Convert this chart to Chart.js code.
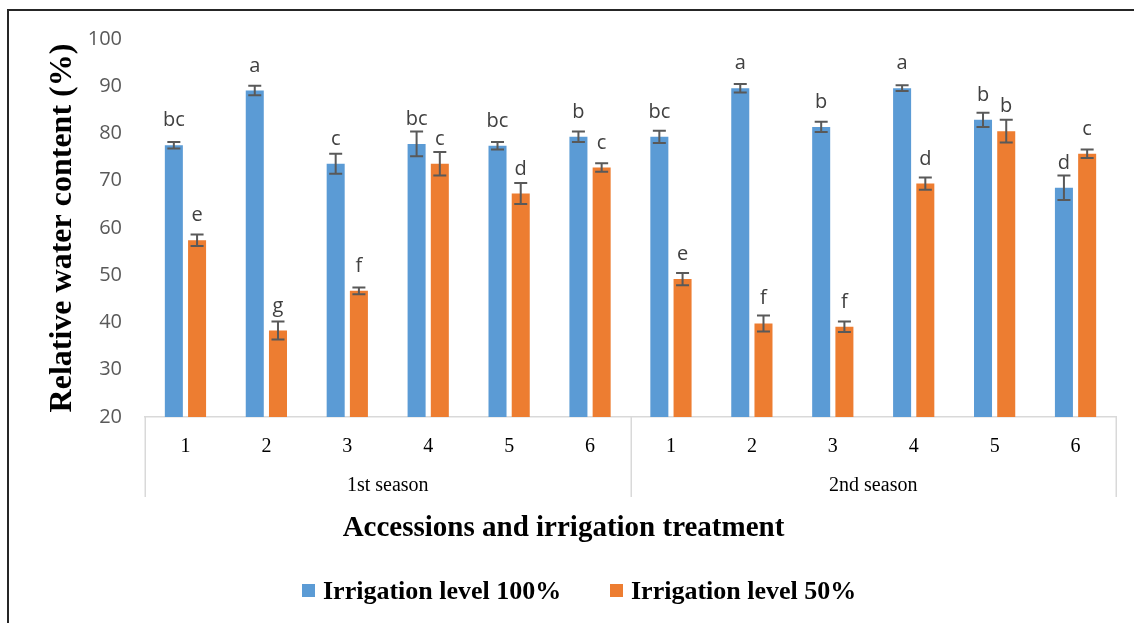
<!DOCTYPE html>
<html>
<head>
<meta charset="utf-8">
<script src="https://cdn.jsdelivr.net/npm/chart.js@4/dist/chart.umd.min.js"></script>
<style>
  html, body { margin: 0; padding: 0; background: #ffffff; }
  #wrap { width: 1134px; height: 623px; position: relative; }
</style>
</head>
<body>
<div id="wrap"><canvas id="rwc" width="1134" height="623"></canvas></div>
<script>
// Accession numbers along the x axis, grouped by season
const accessions = ['1', '2', '3', '4', '5', '6', '1', '2', '3', '4', '5', '6'];
const seasons = ['1st season', '2nd season'];
const seriesNames = ['Irrigation level 100%', 'Irrigation level 50%'];

// Relative water content (%) per accession
const rwc100 = [77.5, 89.1, 73.6, 77.8, 77.4, 79.3, 79.3, 89.6, 81.4, 89.6, 82.9, 68.5];
const rwc50  = [57.4, 38.3, 46.7, 73.6, 67.3, 72.8, 49.2, 39.8, 39.1, 69.4, 80.5, 75.7];

// Standard errors
const se100 = [0.7, 1.0, 2.1, 2.6, 0.8, 1.1, 1.3, 0.9, 1.1, 0.6, 1.5, 2.6];
const se50  = [1.2, 1.9, 0.7, 2.5, 2.2, 0.9, 1.3, 1.7, 1.1, 1.3, 2.4, 0.9];

// Mean separation letters
const letters100 = ['bc', 'a', 'c', 'bc', 'bc', 'b', 'bc', 'a', 'b', 'a', 'b', 'd'];
const letters50  = ['e', 'g', 'f', 'c', 'd', 'c', 'e', 'f', 'f', 'd', 'b', 'c'];

// Y axis range
const yMin = 20, yMax = 100, yStep = 10;

const BLUE = '#5B9BD5';
const ORANGE = '#ED7D31';
const SERIF = '"Liberation Serif", "Times New Roman", serif';
const SANS = '"Open Sans", "Liberation Sans", sans-serif';

const errorsBySeries = [se100, se50];
const lettersBySeries = [letters100, letters50];

const annotations = {
  id: 'annotations',
  afterDatasetsDraw(chart) {
    const ctx = chart.ctx;
    const y = chart.scales.y;
    ctx.save();
    chart.data.datasets.forEach((ds, di) => {
      const meta = chart.getDatasetMeta(di);
      const errs = errorsBySeries[di];
      const lets = lettersBySeries[di];
      meta.data.forEach((bar, i) => {
        const v = ds.data[i];
        const yHi = y.getPixelForValue(v + errs[i]);
        const yLo = y.getPixelForValue(v - errs[i]);
        ctx.strokeStyle = '#595959';
        ctx.lineWidth = 2;
        ctx.beginPath();
        ctx.moveTo(bar.x, yHi); ctx.lineTo(bar.x, yLo);
        ctx.moveTo(bar.x - 6.5, yHi); ctx.lineTo(bar.x + 6.5, yHi);
        ctx.moveTo(bar.x - 6.5, yLo); ctx.lineTo(bar.x + 6.5, yLo);
        ctx.stroke();

        ctx.fillStyle = '#404040';
        ctx.font = '20px ' + SANS;
        ctx.textAlign = 'center';
        ctx.textBaseline = 'alphabetic';
        ctx.fillText(lets[i], bar.x, bar.y - 19);
      });
    });
    ctx.restore();
  },
  afterDraw(chart) {
    const ctx = chart.ctx;
    const x = chart.scales.x;
    const area = chart.chartArea;
    ctx.save();

    // Season group boxes under the accession labels
    const n = accessions.length / seasons.length;
    const bounds = [];
    for (let g = 0; g <= seasons.length; g++) {
      bounds.push(x.getPixelForValue(g * n - 0.5));
    }
    ctx.strokeStyle = '#d9d9d9';
    ctx.lineWidth = 1.5;
    ctx.beginPath();
    bounds.forEach(px => {
      ctx.moveTo(Math.round(px) + 0.25, area.bottom);
      ctx.lineTo(Math.round(px) + 0.25, area.bottom + 80);
    });
    ctx.stroke();

    ctx.fillStyle = '#000000';
    ctx.font = '20px ' + SERIF;
    ctx.textAlign = 'center';
    ctx.textBaseline = 'middle';
    seasons.forEach((s, g) => {
      ctx.fillText(s, (bounds[g] + bounds[g + 1]) / 2, area.bottom + 69);
    });

    // Horizontal axis title
    ctx.font = 'bold 29px ' + SERIF;
    ctx.textBaseline = 'alphabetic';
    ctx.fillText('Accessions and irrigation treatment', 563.5, 536);

    // Legend
    const items = [
      { x: 302, color: BLUE, text: seriesNames[0] },
      { x: 610, color: ORANGE, text: seriesNames[1] }
    ];
    ctx.font = 'bold 26px ' + SERIF;
    ctx.textAlign = 'left';
    items.forEach(it => {
      ctx.fillStyle = it.color;
      ctx.fillRect(it.x, 584, 13, 13);
      ctx.fillStyle = '#000000';
      ctx.fillText(it.text, it.x + 21, 599);
    });

    // Outer frame (left and top edges)
    ctx.strokeStyle = '#262626';
    ctx.lineWidth = 2;
    ctx.beginPath();
    ctx.moveTo(8, 623); ctx.lineTo(8, 10); ctx.lineTo(1134, 10);
    ctx.stroke();

    ctx.restore();
  }
};

new Chart(document.getElementById('rwc'), {
  type: 'bar',
  data: {
    labels: accessions,
    datasets: [
      { label: seriesNames[0], data: rwc100, backgroundColor: BLUE, borderWidth: 0,
        categoryPercentage: 0.574, barPercentage: 0.776 },
      { label: seriesNames[1], data: rwc50, backgroundColor: ORANGE, borderWidth: 0,
        categoryPercentage: 0.574, barPercentage: 0.776 }
    ]
  },
  options: {
    responsive: false,
    animation: false,
    devicePixelRatio: 1,
    layout: { padding: { top: 39, right: 18, bottom: 0, left: 0 } },
    plugins: {
      legend: { display: false },
      tooltip: { enabled: false }
    },
    scales: {
      x: {
        grid: { display: false, drawTicks: false },
        border: { display: true, color: '#d9d9d9', width: 1.5 },
        ticks: { color: '#000000', font: { family: SERIF, size: 20 }, padding: 18, maxRotation: 0, autoSkip: false },
        afterFit(scale) { scale.height = 206; }
      },
      y: {
        min: yMin,
        max: yMax,
        grid: { display: false, drawTicks: false },
        border: { display: false },
        ticks: { stepSize: yStep, color: '#595959', font: { family: SANS, size: 20 }, padding: 23 },
        title: {
          display: true,
          text: 'Relative water content (%)',
          color: '#000000',
          font: { family: SERIF, size: 32, weight: 'bold' },
          padding: { top: 44, bottom: 0 }
        },
        afterFit(scale) { scale.width = 145; }
      }
    }
  },
  plugins: [annotations]
});
</script>
</body>
</html>
